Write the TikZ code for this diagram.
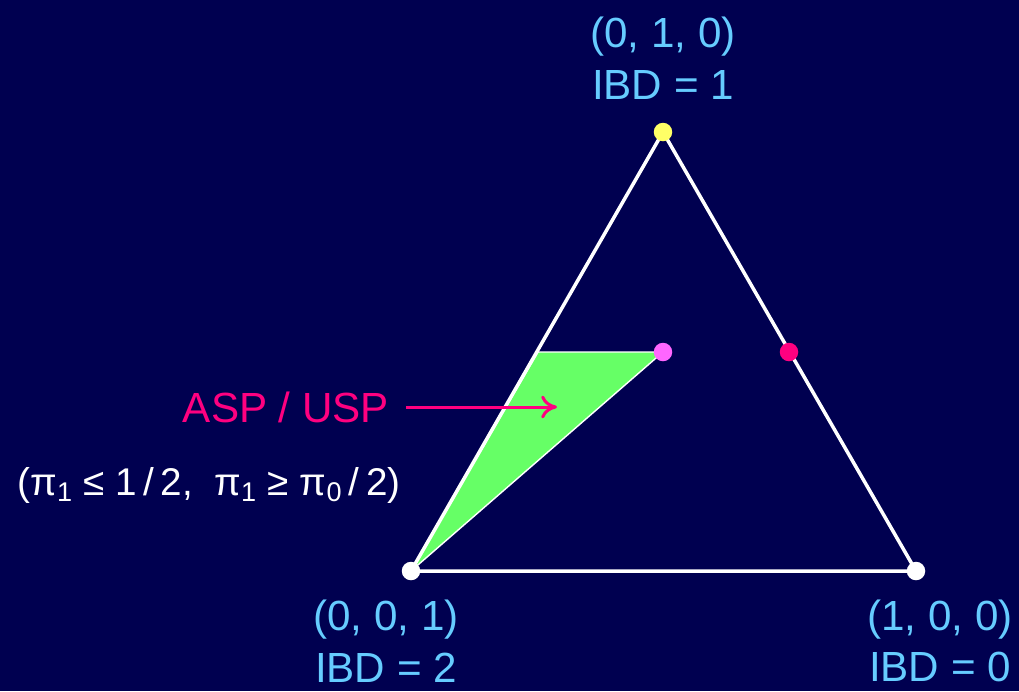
\documentclass[tikz,border=0pt]{standalone}
\usepackage{fontspec}
\setmainfont{Liberation Sans}
\definecolor{SlideNavy}{RGB}{0,0,80}
\definecolor{LabelBlue}{RGB}{102,204,255}
\definecolor{HotPink}{RGB}{255,0,128}
\definecolor{SoftPink}{RGB}{255,102,255}
\definecolor{ZoneGreen}{RGB}{102,255,102}
\definecolor{DotYellow}{RGB}{255,255,102}
\usetikzlibrary{positioning, arrows.meta}

\begin{document}
\begin{tikzpicture}[x=0.02cm, y=-0.02cm,
  dot/.style={circle, inner sep=0pt, minimum size=0.37cm},
  vlabel/.style={align=center, text=LabelBlue, font=\fontsize{24}{29.5}\selectfont},
  edge/.style={white, line width=2pt},
  arrow/.style={-{To[length=9pt, width=13pt]}, HotPink, line width=1.7pt}
]
\useasboundingbox (0,0) rectangle (1019,691);
\fill[SlideNavy] (0,0) rectangle (1019,691);

% vertices
\coordinate (top) at (663,132);
\coordinate (left) at (411,571);
\coordinate (right) at (916,571);
\coordinate (cut) at (538,352);
\coordinate (mid) at (663,352);

% region
\filldraw[fill=ZoneGreen, draw=white, line width=0.8pt] (left) -- (cut) -- (mid) -- cycle;
\draw[edge] (left) -- (top) -- (right) -- cycle;

\node[dot, fill=DotYellow] (ibdone) at (top) {};
\node[dot, fill=white] (ibdtwo) at (left) {};
\node[dot, fill=white] (ibdzero) at (right) {};
\node[dot, fill=SoftPink] (half) at (mid) {};
\node[dot, fill=HotPink] (side) at (789,352) {};

\node[vlabel] (toplbl) at (663,58) {(0, 1, 0)\\IBD = 1};
\node[vlabel] (leftlbl) at (386,641) {(0, 0, 1)\\IBD = 2};
\node[vlabel] (rightlbl) at (940,641) {(1, 0, 0)\\IBD = 0};

\node[text=HotPink, font=\fontsize{24}{29}\selectfont] (asp) at (286,407) {ASP / USP};
\coordinate (target) at (557,407);
\draw[arrow] (asp.east) ++(6pt,0) -- (target);

\node[text=white, font=\fontsize{22}{27}\selectfont] (cond) at (209,485)
  {(π\textsubscript{1} ≤ 1\,/\,2, \ π\textsubscript{1} ≥ π\textsubscript{0}\,/\,2)};
\end{tikzpicture}
\end{document}
